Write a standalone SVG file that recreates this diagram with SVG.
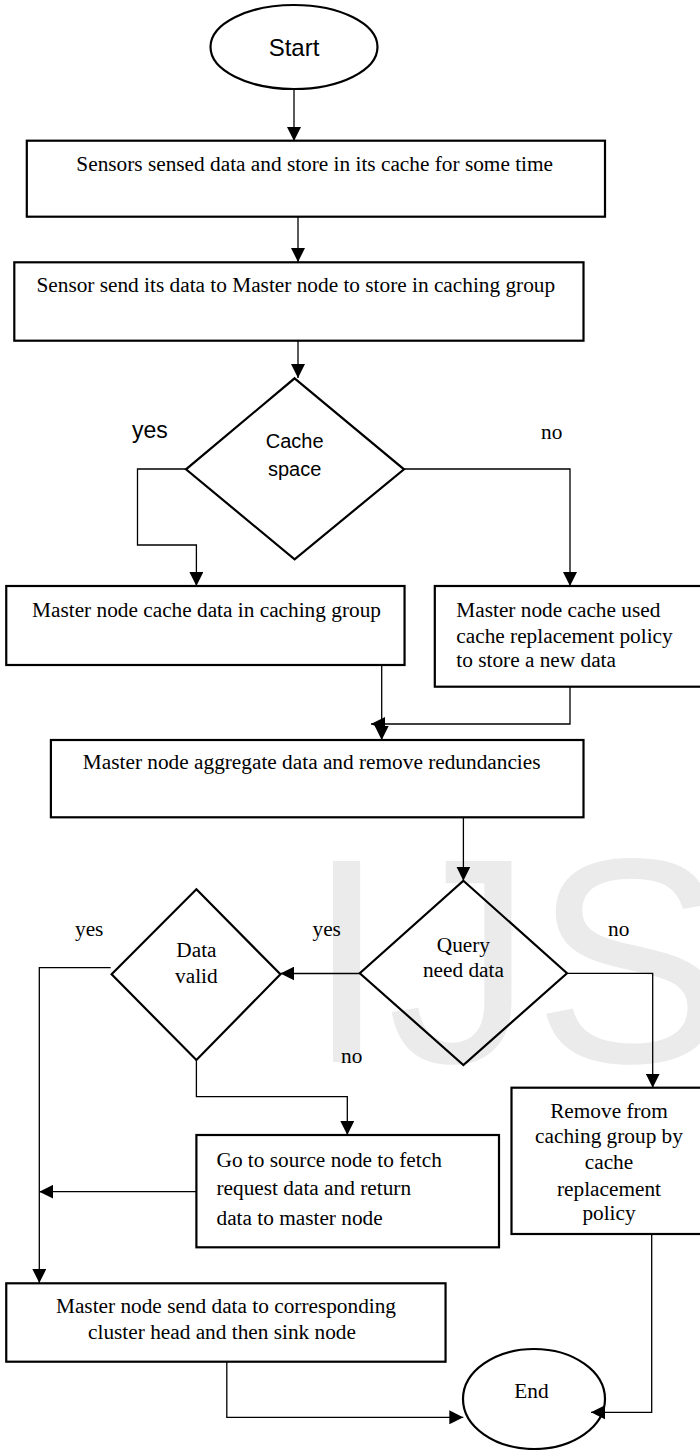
<svg xmlns="http://www.w3.org/2000/svg" width="700" height="1450" viewBox="0 0 700 1450">
<style>
.box{fill:none;stroke:#000;stroke-width:2.2}
.shape{fill:none;stroke:#000;stroke-width:2.2}
.line{fill:none;stroke:#000;stroke-width:1.3}
.arr{marker-end:url(#ah)}
.serif{font-family:"Liberation Serif","Times New Roman",serif;font-size:21.3px;fill:#000}
.sans{font-family:"Liberation Sans",Arial,sans-serif;fill:#000}
.mid{text-anchor:middle}
.wm{font-family:"Liberation Sans",Arial,sans-serif;font-size:292px;fill:#ebebeb}
</style>
<defs>
<marker id="ah" viewBox="0 0 14 14" markerWidth="14" markerHeight="14" refX="14" refY="7" orient="auto" markerUnits="userSpaceOnUse">
<path d="M0,0 L14,7 L0,14 z" fill="#000"/>
</marker>
</defs>
<rect width="700" height="1450" fill="#fff"/>
<text class="wm" x="306" y="1062">IJS</text>

<g id="connectors">
<path class="line arr" d="M294,89 V141"/>
<path class="line arr" d="M298,217 V262"/>
<path class="line arr" d="M298,341 V378"/>
<path class="line arr" d="M186,469 H137.5 V545 H196.4 V586"/>
<path class="line arr" d="M404,469 H570 V586"/>
<path class="line arr" d="M381.7,665 V740"/>
<path class="line arr" d="M570,687 V724 H371"/>
<path class="line arr" d="M463.4,817 V880.7"/>
<path class="line arr" d="M359.8,973.5 H280.4"/>
<path class="line arr" d="M110.7,967.7 H39.3 V1283"/>
<path class="line arr" d="M196.4,1060 V1096.7 H347.3 V1135"/>
<path class="line arr" d="M567,973.3 H652.7 V1087.7"/>
<path class="line arr" d="M196.4,1191.7 H39.3"/>
<path class="line arr" d="M226.8,1361.7 V1417.3 H463.3"/>
<path class="line arr" d="M651.7,1234 V1412.3 H591"/>
</g>

<g id="start">
<ellipse class="shape" cx="294" cy="47" rx="83.5" ry="42"/>
<text class="sans mid" x="294" y="56" font-size="24">Start</text>
</g>

<g id="sense">
<rect class="box" x="26.8" y="140.7" width="578.2" height="76"/>
<text class="serif mid" x="314.7" y="170.7">Sensors sensed data and store in its cache for some time</text>
</g>

<g id="send-master">
<rect class="box" x="14.3" y="262.3" width="569.2" height="78.4"/>
<text class="serif mid" x="295.8" y="291.7">Sensor send its data to Master node to store in caching group</text>
</g>

<g id="cache-space">
<polygon class="shape" points="294.6,378.3 404,469.3 294.6,559.3 186,469.3"/>
<text class="sans mid" x="294.6" y="448.3" font-size="20">Cache</text>
<text class="sans mid" x="294.6" y="476" font-size="20">space</text>
</g>

<g id="cache-group">
<rect class="box" x="6.25" y="586" width="398.3" height="79"/>
<text class="serif mid" x="206.5" y="617.3">Master node cache data in caching group</text>
</g>

<g id="cache-replace">
<rect class="box" x="434.8" y="586" width="280" height="100.7"/>
<text class="serif" x="456.3" y="617.3">Master node cache used</text>
<text class="serif" x="456.3" y="643.3">cache replacement policy</text>
<text class="serif" x="456.3" y="667.3">to store a new data</text>
</g>

<g id="aggregate">
<rect class="box" x="50.9" y="740" width="532.6" height="77.3"/>
<text class="serif mid" x="311.7" y="769.3">Master node aggregate data and remove redundancies</text>
</g>

<g id="query">
<polygon class="shape" points="463.4,880.7 567,973.3 463.4,1065 359.8,973.3"/>
<text class="serif mid" x="463.4" y="951.7">Query</text>
<text class="serif mid" x="463.4" y="976.7">need data</text>
</g>

<g id="data-valid">
<polygon class="shape" points="196.4,889.3 280.4,974.3 196.4,1060 111.6,974.3"/>
<text class="serif mid" x="196.4" y="956.7">Data</text>
<text class="serif mid" x="196.4" y="982.7">valid</text>
</g>

<g id="fetch">
<rect class="box" x="196.4" y="1135" width="302.6" height="112.3"/>
<text class="serif" x="216.5" y="1166.7" font-size="24">Go to source node to fetch</text>
<text class="serif" x="216.5" y="1195" font-size="24">request data and return</text>
<text class="serif" x="216.5" y="1225" font-size="24">data to master node</text>
</g>

<g id="remove">
<rect class="box" x="511.5" y="1087.7" width="200" height="146.3"/>
<text class="serif mid" x="609" y="1117.7">Remove from</text>
<text class="serif mid" x="609" y="1143.3">caching group by</text>
<text class="serif mid" x="609" y="1169">cache</text>
<text class="serif mid" x="609" y="1195.7">replacement</text>
<text class="serif mid" x="609" y="1220">policy</text>
</g>

<g id="send-sink">
<rect class="box" x="6.25" y="1283.3" width="439.3" height="78.4"/>
<text class="serif mid" x="226" y="1312.7">Master node send data to corresponding</text>
<text class="serif mid" x="222" y="1339.3">cluster head and then sink node</text>
</g>

<g id="end">
<ellipse class="shape" cx="534" cy="1399" rx="71" ry="50"/>
<text class="serif mid" x="531.5" y="1398.3" font-size="29">End</text>
</g>

<g id="labels">
<text class="sans" x="132" y="438" font-size="23">yes</text>
<text class="serif" x="541" y="439" font-size="22">no</text>
<text class="serif" x="75" y="936" font-size="22">yes</text>
<text class="serif" x="312.5" y="936" font-size="22">yes</text>
<text class="serif" x="608" y="936" font-size="22">no</text>
<text class="serif" x="341" y="1063.3" font-size="22">no</text>
</g>
</svg>
